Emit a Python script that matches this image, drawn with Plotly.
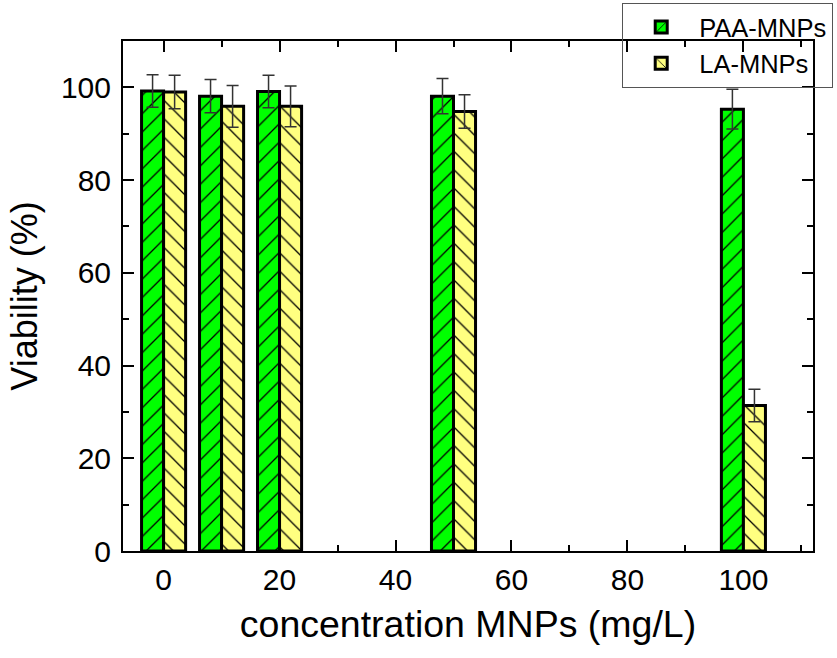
import plotly.graph_objects as go

# Data
conc = [0, 10, 20, 50, 100]
paa_vals = [99.2, 98.1, 99.1, 98.1, 95.3]
paa_err = [3.5, 3.6, 3.5, 3.8, 4.3]
la_vals = [99.0, 95.9, 95.9, 94.8, 31.4]
la_err = [3.6, 4.5, 4.4, 3.6, 3.5]

FONT = "Liberation Sans, Arial, sans-serif"

fig = go.Figure()
fig.add_trace(go.Bar(
    x=conc, y=paa_vals, name="PAA-MNPs", legendgroup="a",
    marker=dict(color="#00FF00", line=dict(color="black", width=3),
                pattern=dict(shape="/", fgcolor="black", bgcolor="#00FF00",
                             size=13, solidity=0.1, fgopacity=1)),
    error_y=dict(type="data", array=paa_err, visible=True,
                 color="#333333", thickness=1.5, width=6),
))
fig.add_trace(go.Bar(
    x=conc, y=la_vals, name="LA-MNPs", legendgroup="b",
    marker=dict(color="#FFFF80", line=dict(color="black", width=3),
                pattern=dict(shape="\\", fgcolor="black", bgcolor="#FFFF80",
                             size=13, solidity=0.1, fgopacity=1)),
    error_y=dict(type="data", array=la_err, visible=True,
                 color="#333333", thickness=1.5, width=6),
))

axis_common = dict(
    showline=True, linecolor="black", linewidth=2, mirror="ticks",
    ticks="inside", ticklen=11, tickwidth=2, tickcolor="black",
    showgrid=False, zeroline=False, automargin=False,
    tickfont=dict(family=FONT, size=30, color="black"),
)

fig.update_xaxes(
    range=[-7, 112], tickmode="linear", tick0=0, dtick=20,
    minor=dict(ticks="inside", ticklen=6, tickwidth=2, tickcolor="black", dtick=10, tick0=0),
    title=dict(text="concentration MNPs (mg/L)", font=dict(family=FONT, size=37.5, color="black"),
               standoff=16),
    ticklabelstandoff=1,
    **axis_common,
)
fig.update_yaxes(
    range=[0, 110], tickmode="linear", tick0=0, dtick=20,
    minor=dict(ticks="inside", ticklen=6, tickwidth=2, tickcolor="black", dtick=10, tick0=0),
    title=dict(text="Viability (%)", font=dict(family=FONT, size=36, color="black"),
               standoff=12),
    ticklabelstandoff=4,
    **axis_common,
)

fig.update_layout(
    width=837, height=658,
    margin=dict(l=123, r=24, t=41, b=107, autoexpand=False),
    paper_bgcolor="white", plot_bgcolor="white",
    barmode="group", bargap=0.24, bargroupgap=0,
    font=dict(family=FONT, color="black"),
    legend=dict(
        x=0.7235, y=1.0745, xanchor="left", yanchor="top",
        bgcolor="rgba(0,0,0,0)", bordercolor="#555555", borderwidth=1,
        font=dict(family=FONT, size=25.5, color="black"),
        itemwidth=66, tracegroupgap=0, traceorder="grouped",
    ),
    showlegend=True,
)

fig.write_html("out.html", config={"displayModeBar": False},
               post_script="document.body.style.margin='0';")
